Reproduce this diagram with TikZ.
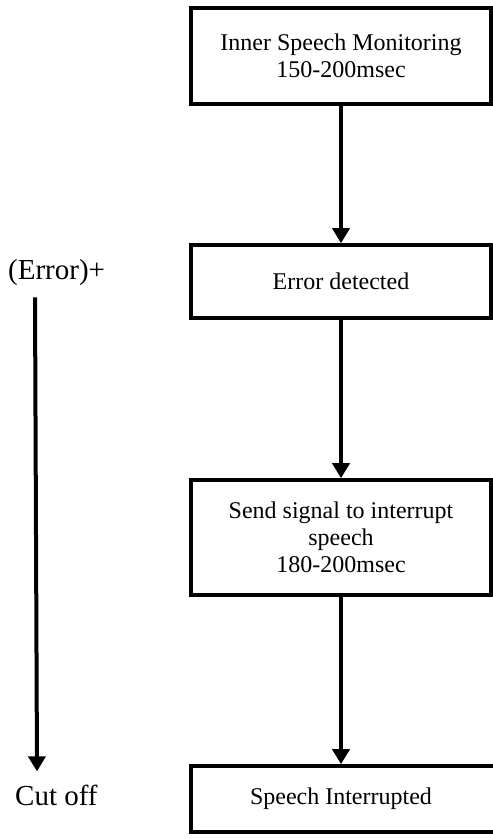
\documentclass[tikz,border=0pt]{standalone}
\usepackage{fontspec}
\setmainfont{Liberation Serif}
\usetikzlibrary{arrows.meta,positioning,calc}
\tikzset{
  base/.style={align=center, inner sep=0pt, font=\fontsize{24}{27}\selectfont, text=black},
  box/.style={base, draw=black, line width=3.6pt, minimum width=300pt},
  arr/.style={-{Triangle[length=15pt,width=17pt]}, line width=4pt, draw=black},
  side/.style={inner sep=0pt, font=\fontsize{29}{32}\selectfont, anchor=base west},
}
\begin{document}
\begin{tikzpicture}[x=1pt,y=-1pt]
    \useasboundingbox (0,0) rectangle (493,839);
    \node[box, minimum height=96pt] (mon) at (341,56) {Inner Speech Monitoring\\150-200msec};
    \node[box, minimum height=73pt] (det) at (341,281.5) {Error detected};
    \node[box, minimum height=115pt] (sig) at (341,537.5) {Send signal to interrupt\\speech\\180-200msec};
    \node[box, minimum height=66pt, minimum width=308pt] (int) at (345,799) {\hspace*{-8pt}Speech Interrupted};
    \node[side] (err) at (8,279) {(Error)+};
    \node[side] (cut) at (15,805) {Cut off};
    \draw[arr] (mon) -- (det); \draw[arr] (det) -- (sig); \draw[arr] (sig.south) -- (sig.south |- int.north);
    \draw[arr] ([xshift=27pt,yshift=-12pt]err.south west) -- ([xshift=22pt,yshift=13pt]cut.north west);
  \end{tikzpicture}
\end{document}
